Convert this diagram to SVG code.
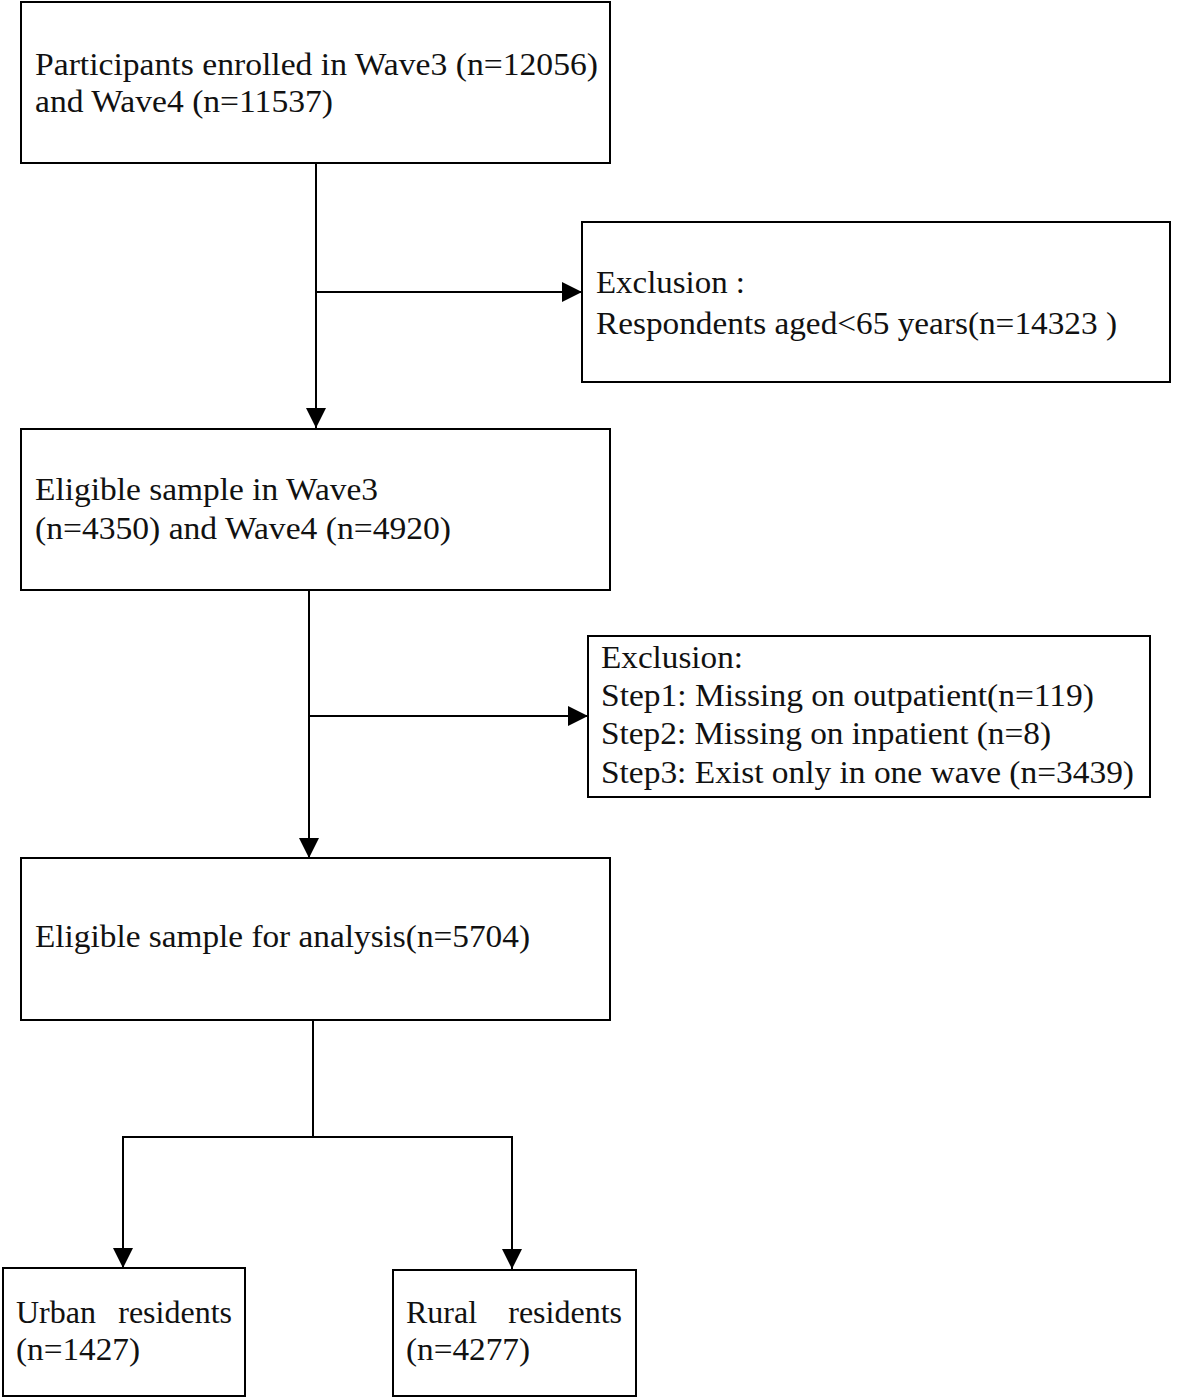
<svg xmlns="http://www.w3.org/2000/svg" width="1180" height="1400" viewBox="0 0 1180 1400">
<defs>
<marker id="arr" viewBox="0 0 10 10" refX="10" refY="5" markerWidth="20" markerHeight="20" markerUnits="userSpaceOnUse" orient="auto">
<path d="M0,0 L10,5 L0,10 z" fill="#000"/>
</marker>
<style>
.box{fill:#fff;stroke:#000;stroke-width:2}
.t{font-family:"Liberation Serif","Times New Roman",serif;font-size:32px;fill:#111}
.c{fill:none;stroke:#000;stroke-width:2}
</style>
</defs>
<rect width="1180" height="1400" fill="#fff"/>
<g id="connectors">
<line class="c" x1="316" y1="163" x2="316" y2="428" marker-end="url(#arr)"/>
<line class="c" x1="316" y1="292" x2="582" y2="292" marker-end="url(#arr)"/>
<line class="c" x1="309" y1="590" x2="309" y2="858" marker-end="url(#arr)"/>
<line class="c" x1="309" y1="716" x2="588" y2="716" marker-end="url(#arr)"/>
<line class="c" x1="313" y1="1020" x2="313" y2="1137"/>
<polyline class="c" points="123,1137 512,1137"/>
<line class="c" x1="123" y1="1136" x2="123" y2="1268" marker-end="url(#arr)"/>
<line class="c" x1="512" y1="1136" x2="512" y2="1269" marker-end="url(#arr)"/>
</g>
<g id="n1">
<rect class="box" x="21" y="2" width="589" height="161"/>
<text class="t" x="35" y="75" textLength="563" lengthAdjust="spacingAndGlyphs">Participants enrolled in Wave3 (n=12056)</text>
<text class="t" x="35" y="112" textLength="298" lengthAdjust="spacingAndGlyphs">and Wave4 (n=11537)</text>
</g>
<g id="n2">
<rect class="box" x="582" y="222" width="588" height="160"/>
<text class="t" x="596" y="293" textLength="149" lengthAdjust="spacingAndGlyphs">Exclusion :</text>
<text class="t" x="596" y="334" textLength="521" lengthAdjust="spacingAndGlyphs">Respondents aged&lt;65 years(n=14323 )</text>
</g>
<g id="n3">
<rect class="box" x="21" y="429" width="589" height="161"/>
<text class="t" x="35" y="500" textLength="343" lengthAdjust="spacingAndGlyphs">Eligible sample in Wave3</text>
<text class="t" x="35" y="539" textLength="416" lengthAdjust="spacingAndGlyphs">(n=4350) and Wave4 (n=4920)</text>
</g>
<g id="n4">
<rect class="box" x="588" y="636" width="562" height="161"/>
<text class="t" x="601" y="668" textLength="142" lengthAdjust="spacingAndGlyphs">Exclusion:</text>
<text class="t" x="601" y="706" textLength="493" lengthAdjust="spacingAndGlyphs">Step1: Missing on outpatient(n=119)</text>
<text class="t" x="601" y="744" textLength="450" lengthAdjust="spacingAndGlyphs">Step2: Missing on inpatient (n=8)</text>
<text class="t" x="601" y="783" textLength="533" lengthAdjust="spacingAndGlyphs">Step3: Exist only in one wave (n=3439)</text>
</g>
<g id="n5">
<rect class="box" x="21" y="858" width="589" height="162"/>
<text class="t" x="35" y="947" textLength="495" lengthAdjust="spacingAndGlyphs">Eligible sample for analysis(n=5704)</text>
</g>
<g id="n6">
<rect class="box" x="3" y="1268" width="242" height="128"/>
<text class="t" y="1323"><tspan x="16">Urban</tspan><tspan x="232" text-anchor="end">residents</tspan></text>
<text class="t" x="16" y="1360" textLength="124" lengthAdjust="spacingAndGlyphs">(n=1427)</text>
</g>
<g id="n7">
<rect class="box" x="393" y="1270" width="243" height="126"/>
<text class="t" y="1323"><tspan x="406">Rural</tspan><tspan x="622" text-anchor="end">residents</tspan></text>
<text class="t" x="406" y="1360" textLength="124" lengthAdjust="spacingAndGlyphs">(n=4277)</text>
</g>
</svg>
